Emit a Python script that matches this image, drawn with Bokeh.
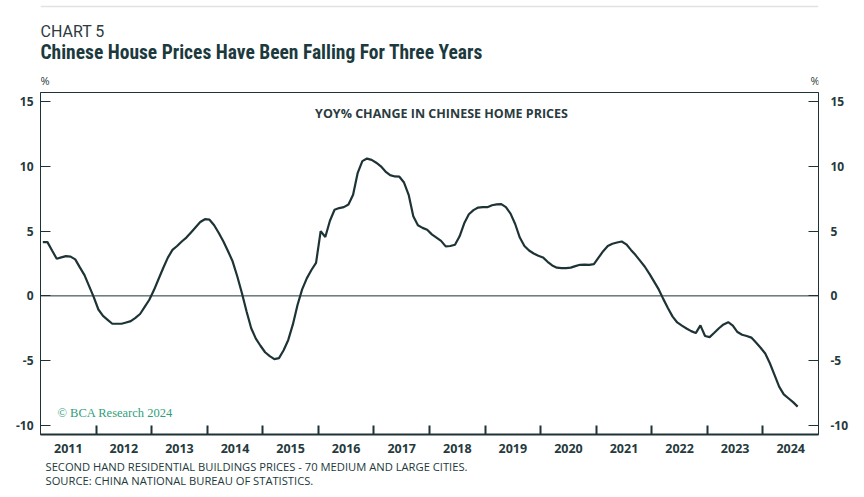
import pandas as pd
from bokeh.plotting import figure
from bokeh.layouts import column
from bokeh.models import (LinearAxis, FixedTicker, Span, Label, Range1d,
                          ColumnDataSource, CustomJSTickFormatter)
from bokeh.embed import file_html
from bokeh.resources import INLINE

# ---------------- data ----------------
start_month = "2011-01"
yoy_change = [
    4.15, 4.15, 3.5, 2.87, 2.97, 3.07, 3.03, 2.82, 2.2, 1.6, 0.75, -0.1,        # 2011
    -1.05, -1.55, -1.85, -2.15, -2.15, -2.15, -2.05, -1.95, -1.7, -1.4, -0.85, -0.3,  # 2012
    0.45, 1.3, 2.15, 2.95, 3.55, 3.85, 4.2, 4.5, 4.9, 5.3, 5.7, 5.92,           # 2013
    5.88, 5.45, 4.85, 4.2, 3.45, 2.65, 1.5, 0.2, -1.2, -2.5, -3.3, -3.85,       # 2014
    -4.35, -4.65, -4.88, -4.8, -4.2, -3.4, -2.2, -0.7, 0.5, 1.35, 2.0, 2.55,    # 2015
    5.0, 4.55, 5.8, 6.65, 6.78, 6.85, 7.05, 7.8, 9.5, 10.4, 10.6, 10.5,         # 2016
    10.28, 10.0, 9.6, 9.32, 9.22, 9.2, 8.75, 7.8, 6.15, 5.45, 5.25, 5.1,        # 2017
    4.75, 4.5, 4.25, 3.82, 3.85, 3.95, 4.6, 5.6, 6.3, 6.62, 6.82, 6.85,         # 2018
    6.85, 7.0, 7.07, 7.08, 6.85, 6.35, 5.55, 4.5, 3.85, 3.5, 3.27, 3.1,         # 2019
    2.97, 2.63, 2.35, 2.18, 2.15, 2.15, 2.18, 2.3, 2.4, 2.42, 2.4, 2.45,        # 2020
    2.95, 3.45, 3.85, 4.02, 4.12, 4.2, 3.98, 3.55, 3.15, 2.7, 2.25, 1.7,        # 2021
    1.1, 0.5, -0.25, -0.95, -1.6, -2.05, -2.3, -2.52, -2.72, -2.87, -2.28, -3.1,  # 2022
    -3.18, -2.85, -2.5, -2.2, -2.03, -2.3, -2.79, -3.0, -3.1, -3.22, -3.6, -4.0,  # 2023
    -4.45, -5.2, -6.1, -7.0, -7.6, -7.9, -8.2, -8.55,                           # 2024
]
years = list(range(2011, 2025))
y_ticks = [-10, -5, 0, 5, 10, 15]

chart_number = "CHART 5"
title = "Chinese House Prices Have Been Falling For Three Years"
inner_title = "YOY% CHANGE IN CHINESE HOME PRICES"
unit_label = "%"
watermark = "\u00a9 BCA Research 2024"
footnote_1 = "SECOND HAND RESIDENTIAL BUILDINGS PRICES - 70 MEDIUM AND LARGE CITIES."
footnote_2 = "SOURCE: CHINA NATIONAL BUREAU OF STATISTICS."

# ---------------- layout constants ----------------
W = 864
BL, BR = 40, 46          # left / right borders -> frame 40..818
H_HEAD, H_MAIN, H_FOOT = 88, 372, 37
DARK = "#1e3336"
TEXT = "#263a3d"


def text_strip(height):
    f = figure(width=W, height=height, output_backend="svg", toolbar_location=None,
               x_range=Range1d(0, W - BL - BR), y_range=Range1d(height, 0),
               x_axis_type=None, y_axis_type=None,
               min_border_left=BL, min_border_right=BR,
               min_border_top=0, min_border_bottom=0)
    f.grid.visible = False
    f.outline_line_color = None
    return f


def add_label(fig, text, x, y, size, font="Open Sans", style="normal", color=TEXT,
              align="left", units="data"):
    fig.add_layout(Label(x=x, y=y, x_units=units, y_units=units, text=text,
                         text_font=font, text_font_size=size, text_font_style=style,
                         text_color=color, text_align=align, text_baseline="middle"))


# ---------------- header ----------------
head = text_strip(H_HEAD)
head.add_layout(Span(location=6, dimension="width", line_color="#e2e2e2", line_width=1.5))
add_label(head, chart_number, 0, 31, "16px", font="Roboto", color="#2b3b3e")
add_label(head, title, 0, 52, "19.5px",
          font="'Roboto Condensed', 'Liberation Sans Narrow', Roboto",
          style="bold", color="#1c3a3e")
add_label(head, unit_label, 0, 80, "11px", color="#2b3b3e")
add_label(head, unit_label, W - BL - BR + 1, 80, "11px", align="right", color="#2b3b3e")

# ---------------- main chart ----------------
dates = pd.date_range(start_month, periods=len(yoy_change), freq="MS")
xdec = dates.year + (dates.month - 0.5) / 12.0
src = ColumnDataSource(dict(x=list(xdec), y=yoy_change))

p = figure(width=W, height=H_MAIN, output_backend="svg", toolbar_location=None,
           x_range=Range1d(years[0], years[-1] + 1), y_range=Range1d(-10.7, 15.7),
           min_border_left=BL, min_border_right=BR, min_border_top=4,
           min_border_bottom=26)
p.grid.visible = False
p.outline_line_color = DARK
p.outline_line_width = 1

xa = p.xaxis[0]
xa.ticker = FixedTicker(ticks=[y + 0.5 for y in years],
                        minor_ticks=[y for y in years[1:]])
xa.formatter = CustomJSTickFormatter(code="return String(Math.floor(tick));")
xa.major_tick_line_color = None
xa.minor_tick_in = 9
xa.minor_tick_out = 0
xa.minor_tick_line_color = DARK
xa.minor_tick_line_width = 2
xa.axis_line_color = DARK
xa.axis_line_width = 2
xa.major_label_text_font = "Open Sans"
xa.major_label_text_font_style = "bold"
xa.major_label_text_font_size = "12.5px"
xa.major_label_text_color = TEXT
xa.major_label_standoff = 3


def style_y(ax, standoff):
    ax.ticker = FixedTicker(ticks=y_ticks)
    ax.formatter = CustomJSTickFormatter(code="return String(tick);")
    ax.major_tick_in = 10
    ax.major_tick_out = 0
    ax.minor_tick_line_color = None
    ax.major_tick_line_color = DARK
    ax.axis_line_color = DARK
    ax.axis_line_width = 1
    ax.major_label_text_font = "Open Sans"
    ax.major_label_text_font_style = "bold"
    ax.major_label_text_font_size = "12px"
    ax.major_label_text_color = TEXT
    ax.major_label_standoff = standoff


style_y(p.yaxis[0], 7)
ra = LinearAxis()
style_y(ra, 12)
p.add_layout(ra, "right")

p.add_layout(Span(location=0, dimension="width", line_color=DARK, line_width=1))
p.line("x", "y", source=src, line_color=DARK, line_width=2.2)

add_label(p, inner_title, 401, 321, "12.5px", style="bold", color="#2b3b3e",
          align="center", units="screen")
add_label(p, watermark, 17, 22, "12.5px", font="Liberation Serif", color="#2f9e7a",
          units="screen")

# ---------------- footer ----------------
foot = text_strip(H_FOOT)
add_label(foot, footnote_1, 5, 6, "11.2px", color="#22393c")
add_label(foot, footnote_2, 5, 20, "11.2px", color="#22393c")

layout = column(head, p, foot, spacing=0)
open("out.html", "w").write(file_html(layout, INLINE))
